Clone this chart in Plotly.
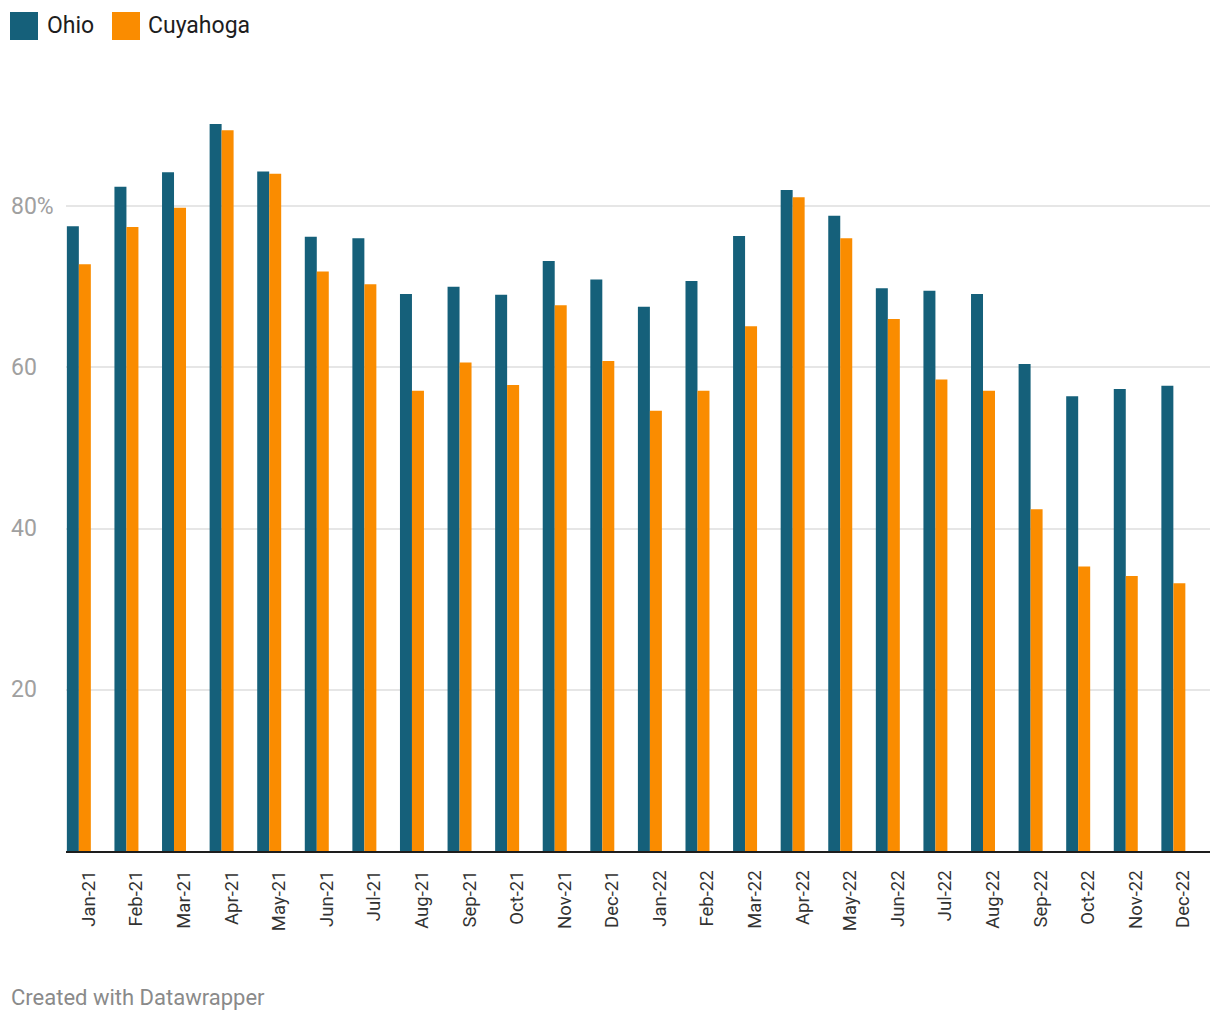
import plotly.graph_objects as go

months = ["Jan-21", "Feb-21", "Mar-21", "Apr-21", "May-21", "Jun-21", "Jul-21", "Aug-21",
          "Sep-21", "Oct-21", "Nov-21", "Dec-21", "Jan-22", "Feb-22", "Mar-22", "Apr-22",
          "May-22", "Jun-22", "Jul-22", "Aug-22", "Sep-22", "Oct-22", "Nov-22", "Dec-22"]
ohio = [77.5, 82.4, 84.2, 90.2, 84.3, 76.2, 76.0, 69.1, 70.0, 69.0, 73.2, 70.9,
        67.5, 70.7, 76.3, 82.0, 78.8, 69.8, 69.5, 69.1, 60.4, 56.4, 57.3, 57.7]
cuyahoga = [72.8, 77.4, 79.8, 89.4, 84.0, 71.9, 70.3, 57.1, 60.6, 57.8, 67.7, 60.8,
            54.6, 57.1, 65.1, 81.1, 76.0, 66.0, 58.5, 57.1, 42.4, 35.3, 34.1, 33.2]
y_ticks = [20, 40, 60, 80]
y_tick_labels = ["20", "40", "60", "80%"]

OHIO_C = "#15607a"
CUY_C = "#fa8c00"
FONT = "Roboto"

fig = go.Figure()
fig.add_trace(go.Bar(name="Ohio", x=months, y=ohio, marker_color=OHIO_C, marker_line_width=0))
fig.add_trace(go.Bar(name="Cuyahoga", x=months, y=cuyahoga, marker_color=CUY_C, marker_line_width=0))

# page coordinates are offset by the 8px body margin
OFF = 8
W, H = 1204, 1004
ml, mr, mt, mb = 66 - OFF, 2, 61 - OFF, 1004 - (851 - OFF)
pw, ph = W - ml - mr, H - mt - mb


def px_to_paper_x(px):
    return (px - OFF - ml) / pw


def px_to_paper_y(py):
    return (H - mb - (py - OFF)) / ph


annotations = []
for v, t in zip(y_ticks, y_tick_labels):
    annotations.append(dict(x=px_to_paper_x(9), xref="paper", y=v, yref="y", text=t, showarrow=False,
                            xanchor="left", yanchor="middle",
                            font=dict(family=FONT, size=23, color="#a0a0a0")))
legend_items = [("Ohio", OHIO_C, 10, 45), ("Cuyahoga", CUY_C, 112, 146)]
shapes = []
for name, col, sx, tx in legend_items:
    shapes.append(dict(type="rect", xref="paper", yref="paper",
                       x0=px_to_paper_x(sx), x1=px_to_paper_x(sx + 28),
                       y0=px_to_paper_y(40), y1=px_to_paper_y(12),
                       fillcolor=col, line_width=0))
    annotations.append(dict(x=px_to_paper_x(tx), xref="paper", y=px_to_paper_y(26), yref="paper",
                            text=name, showarrow=False, xanchor="left", yanchor="middle",
                            font=dict(family=FONT, size=23, color="#1d1d1d")))
annotations.append(dict(x=px_to_paper_x(9), xref="paper", y=px_to_paper_y(997), yref="paper",
                        text="Created with Datawrapper", showarrow=False, xanchor="left",
                        yanchor="middle", font=dict(family=FONT, size=22, color="#8a8a8a")))

fig.update_layout(
    width=W, height=H,
    margin=dict(l=ml, r=mr, t=mt, b=mb, pad=0),
    barmode="group", bargap=0.496, bargroupgap=0,
    plot_bgcolor="white", paper_bgcolor="white",
    showlegend=False,
    font=dict(family=FONT),
    annotations=annotations,
    shapes=shapes,
    xaxis=dict(range=[-0.27, 23.77], showgrid=False, tickangle=-90, ticks="",
               tickfont=dict(family=FONT, size=18.5, color="#333333"),
               showline=True, linecolor="#1d1d1d", linewidth=2,
               ticklabelshift=10, ticklabelstandoff=10, fixedrange=True),
    yaxis=dict(range=[0, 98], tickvals=y_ticks, showticklabels=False, showgrid=True,
               gridcolor="#e6e6e6", gridwidth=1.5, zeroline=False, showline=False, fixedrange=True),
)
fig.write_html("out.html")
